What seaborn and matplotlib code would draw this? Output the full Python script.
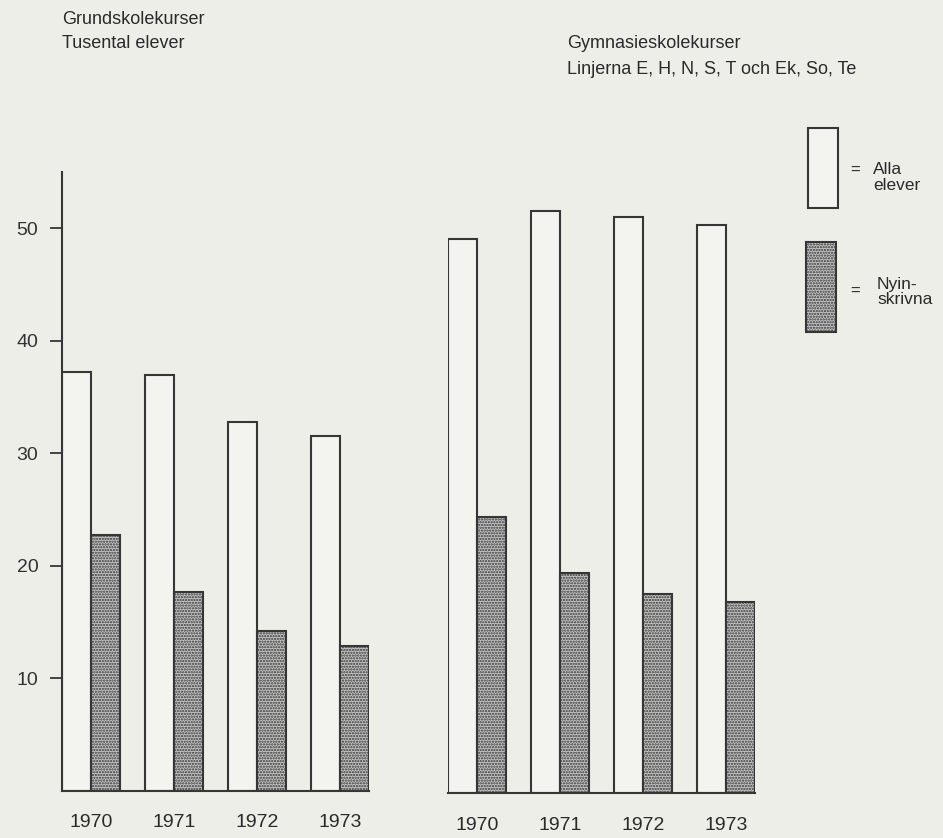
import matplotlib
matplotlib.use("Agg")
import matplotlib.pyplot as plt
import seaborn as sns
import pandas as pd
from matplotlib.patches import Rectangle

# ---- data (thousands of students) ----
years = ["1970", "1971", "1972", "1973"]
series = ["Alla elever", "Nyinskrivna"]
grund_alla = [37.2, 37.0, 32.8, 31.5]
grund_nyin = [22.7, 17.7, 14.2, 12.9]
gymn_alla = [49.3, 51.8, 51.2, 50.5]
gymn_nyin = [24.6, 19.6, 17.7, 17.0]
yticks = [10, 20, 30, 40, 50]

BG = "#eeeee9"
EDGE = "#363636"
NARROW = ["Liberation Sans Narrow", "Liberation Sans", "DejaVu Sans"]
REG = ["Liberation Sans", "DejaVu Sans"]

sns.set_theme(style="white")
plt.rcParams["font.family"] = NARROW
plt.rcParams["hatch.color"] = "#2a2a2a"
plt.rcParams["hatch.linewidth"] = 1.1


def frame(alla, nyin):
    return pd.DataFrame({
        "year": years * 2,
        "series": [series[0]] * 4 + [series[1]] * 4,
        "value": list(alla) + list(nyin),
    })


fig = plt.figure(figsize=(9.43, 8.38), dpi=100, facecolor=BG)
W, H = 943, 838
YMAX = 55


def add_ax(left_px, base_px):
    width = 307
    height = YMAX * 11.25
    return fig.add_axes([left_px / W, (H - base_px) / H, width / W, height / H])


ax1 = add_ax(62, 790.8)
ax2 = add_ax(448, 793.3)

pal = {series[0]: "#f3f3ef", series[1]: "#c4c4c4"}

for ax, alla, nyin in [(ax1, grund_alla, grund_nyin), (ax2, gymn_alla, gymn_nyin)]:
    ax.set_facecolor("none")
    sns.barplot(data=frame(alla, nyin), x="year", y="value", hue="series",
                order=years, hue_order=series, palette=pal, width=0.7,
                edgecolor=EDGE, linewidth=1.5, legend=False, ax=ax,
                saturation=1)
    for p in ax.containers[1]:
        p.set_hatch("......")
    ax.set_xlim(-0.35, 3.35)
    ax.set_ylim(0, YMAX)
    ax.set_xlabel("")
    ax.set_ylabel("")
    for s in ["top", "right"]:
        ax.spines[s].set_visible(False)
    ax.spines["bottom"].set_color(EDGE)
    ax.spines["bottom"].set_linewidth(1.5)
    ax.tick_params(axis="x", length=0, labelsize=14, labelcolor="#2a2a2a")

ax1.tick_params(axis="x", pad=17)
ax2.tick_params(axis="x", pad=17)

ax1.spines["left"].set_color(EDGE)
ax1.spines["left"].set_linewidth(1.5)
ax1.set_yticks(yticks)
ax1.set_yticklabels([str(v) for v in yticks], fontfamily=REG)
ax1.tick_params(axis="y", left=True, direction="out", length=9, width=1.3,
                color=EDGE, pad=8, labelsize=14, labelcolor="#333333")

ax2.spines["left"].set_visible(False)
ax2.set_yticks([])

# ---- titles ----
tc = "#2a2a2a"
fig.text(62 / W, 1 - 19 / H, "Grundskolekurser", fontsize=13, color=tc, va="center")
fig.text(62 / W, 1 - 43 / H, "Tusental elever", fontsize=13, color=tc, va="center")
fig.text(567 / W, 1 - 44 / H, "Gymnasieskolekurser", fontsize=13, color=tc, va="center")
fig.text(567 / W, 1 - 70 / H, "Linjerna E, H, N, S, T och Ek, So, Te", fontsize=13,
         color=tc, va="center")

# ---- legend (drawn as figure decorations) ----
fig.patches.append(Rectangle((808 / W, 1 - 208 / H), 30 / W, 80 / H,
                             transform=fig.transFigure, facecolor=pal[series[0]],
                             edgecolor=EDGE, linewidth=1.5))
fig.patches.append(Rectangle((806 / W, 1 - 332 / H), 30 / W, 90 / H,
                             transform=fig.transFigure, facecolor=pal[series[1]],
                             edgecolor=EDGE, linewidth=1.5, hatch="......"))
fig.text(850 / W, 1 - 170 / H, "=", fontsize=12, color=tc, va="center")
fig.text(873 / W, 1 - 170 / H, "Alla", fontsize=12.5, color=tc, va="center")
fig.text(873 / W, 1 - 185 / H, "elever", fontsize=12.5, color=tc, va="center")
fig.text(850 / W, 1 - 291 / H, "=", fontsize=12, color=tc, va="center")
fig.text(877 / W, 1 - 284 / H, "Nyin-", fontsize=12.5, color=tc, va="center")
fig.text(877 / W, 1 - 299 / H, "skrivna", fontsize=12.5, color=tc, va="center")

fig.savefig("out.png", dpi=100, facecolor=BG)
